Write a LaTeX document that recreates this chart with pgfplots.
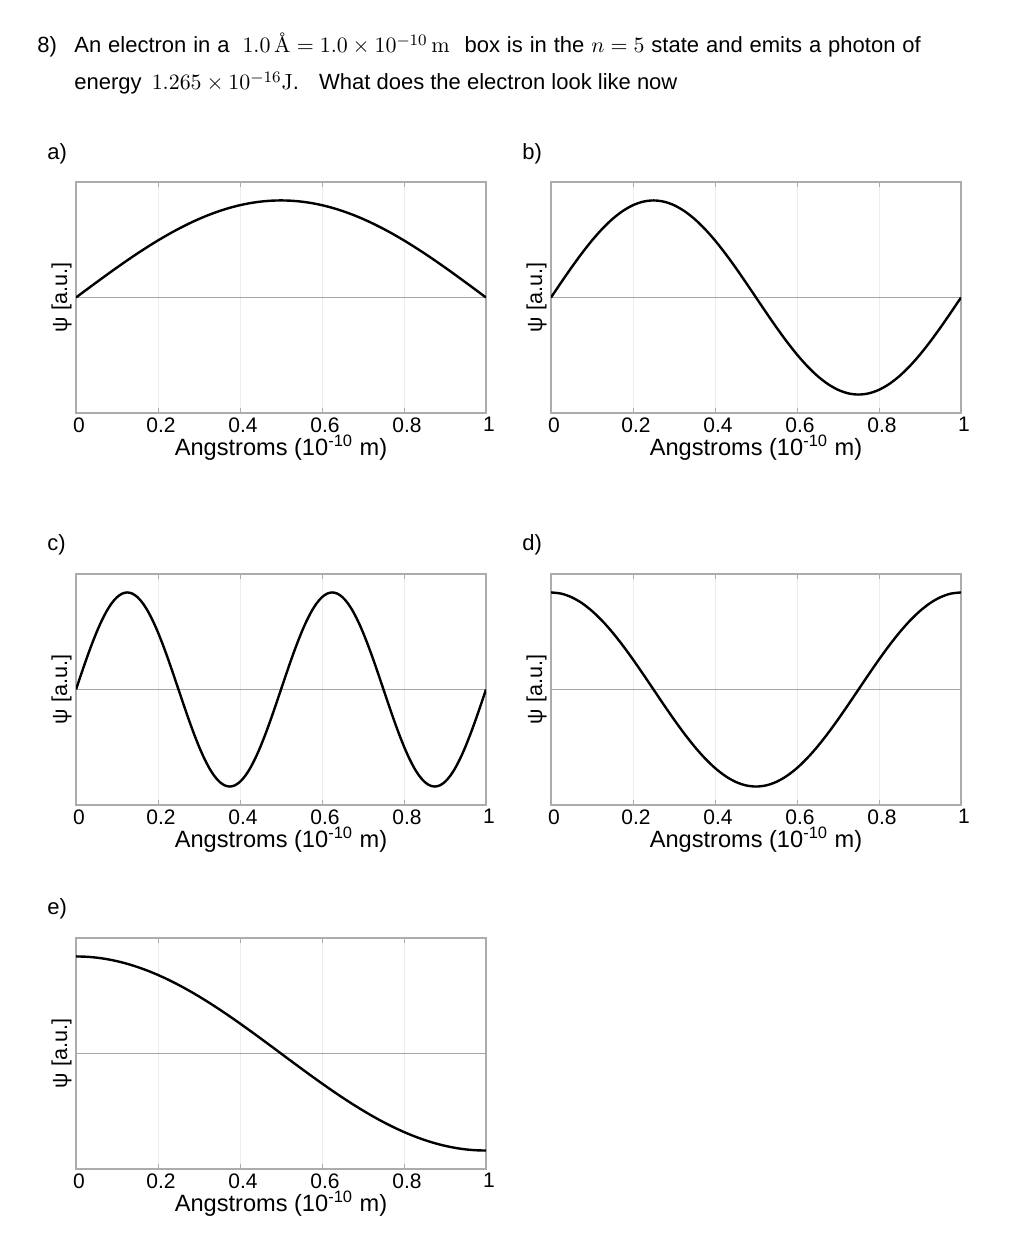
\documentclass[border=0pt]{standalone}
\usepackage{pgfplots}
\pgfplotsset{compat=1.18}
\usepackage{fontspec}
\setmainfont{Liberation Sans}
\newfontfamily\lmr{Latin Modern Roman}

\pgfplotsset{
 wf/.style={
  scale only axis, width=205pt, height=115.5pt,
  anchor=south west,
  xmin=0, xmax=1, ymin=-1.19, ymax=1.19,
  xtick={0,0.2,0.4,0.6,0.8,1},
  xticklabels={0,0.2,0.4,0.6,0.8,1},
  ytick=\empty,
  xmajorgrids, grid style={gray!15, line width=0.5pt},
  axis line style={gray!65, line width=0.6pt},
  tick style={gray!65, line width=0.5pt}, major tick length=2.5pt,
  xticklabel style={font=\fontsize{10.5}{12}\selectfont, anchor=north, inner sep=0pt, yshift=-2pt, xshift=1.5pt},
  xlabel={Angstroms (10\textsuperscript{-10} m)},
  every axis x label/.style={at={(axis description cs:0.5,0)}, anchor=north, inner sep=0pt, yshift=-11pt, font=\fontsize{11.8}{13}\selectfont},
  ylabel={ψ [a.u.]},
  every axis y label/.style={at={(axis description cs:-0.01,0.5)}, rotate=90, anchor=south, inner sep=0pt, font=\fontsize{10.8}{12}\selectfont},
 },
 zl/.style={gray!70, line width=0.6pt},
 wv/.style={black, line width=1.2pt, smooth},
}

\begin{document}
\begin{tikzpicture}
\useasboundingbox (0,0) rectangle (510pt,624pt);
\fill[white] (0,0) rectangle (510pt,624pt);

\node[anchor=base west, inner sep=0pt, font=\fontsize{11}{13}\selectfont] at (18.5pt,597.5pt) {8)};
\node[anchor=base west, inner sep=0pt, font=\fontsize{11}{13}\selectfont] at (37pt,597.5pt) {\spaceskip=3.45pt An electron in a\hspace{3pt} $1.0\,$\mbox{\lmr\AA}$\;=1.0\times10^{-10}\,$\mbox{\lmr m}\hspace{4pt} box is in the $n=5$ state and emits a photon of};
\node[anchor=base west, inner sep=0pt, font=\fontsize{11}{13}\selectfont] at (37pt,579pt) {energy\hspace{2pt} $1.265\times10^{-16}$\mbox{\lmr J}.\hspace{6pt} What does the electron look like now};

\node[anchor=base west, inner sep=0pt, font=\fontsize{11}{13}\selectfont] at (23.5pt,544pt) {a)};
\node[anchor=base west, inner sep=0pt, font=\fontsize{11}{13}\selectfont] at (261pt,544pt) {b)};
\node[anchor=base west, inner sep=0pt, font=\fontsize{11}{13}\selectfont] at (23.5pt,348.5pt) {c)};
\node[anchor=base west, inner sep=0pt, font=\fontsize{11}{13}\selectfont] at (261pt,348.5pt) {d)};
\node[anchor=base west, inner sep=0pt, font=\fontsize{11}{13}\selectfont] at (23.5pt,166.5pt) {e)};

% a) n=1
\begin{axis}[wf, at={(38pt,417.5pt)}]
\addplot[zl] coordinates {(0,0) (1,0)};
\addplot[wv] coordinates {(0,0) (0.025,0.0785) (0.05,0.1564) (0.075,0.2334) (0.1,0.3090) (0.125,0.3827) (0.15,0.4540) (0.175,0.5225) (0.2,0.5878) (0.225,0.6494) (0.25,0.7071) (0.275,0.7604) (0.3,0.8090) (0.325,0.8526) (0.35,0.8910) (0.375,0.9239) (0.4,0.9511) (0.425,0.9724) (0.45,0.9877) (0.475,0.9969) (0.5,1) (0.525,0.9969) (0.55,0.9877) (0.575,0.9724) (0.6,0.9511) (0.625,0.9239) (0.65,0.8910) (0.675,0.8526) (0.7,0.8090) (0.725,0.7604) (0.75,0.7071) (0.775,0.6494) (0.8,0.5878) (0.825,0.5225) (0.85,0.4540) (0.875,0.3827) (0.9,0.3090) (0.925,0.2334) (0.95,0.1564) (0.975,0.0785) (1,0)};
\end{axis}

% b) n=2
\begin{axis}[wf, at={(275.5pt,417.5pt)}]
\addplot[zl] coordinates {(0,0) (1,0)};
\addplot[wv] coordinates {(0,0) (0.025,0.1564) (0.05,0.3090) (0.075,0.4540) (0.1,0.5878) (0.125,0.7071) (0.15,0.8090) (0.175,0.8910) (0.2,0.9511) (0.225,0.9877) (0.25,1) (0.275,0.9877) (0.3,0.9511) (0.325,0.8910) (0.35,0.8090) (0.375,0.7071) (0.4,0.5878) (0.425,0.4540) (0.45,0.3090) (0.475,0.1564) (0.5,0) (0.525,-0.1564) (0.55,-0.3090) (0.575,-0.4540) (0.6,-0.5878) (0.625,-0.7071) (0.65,-0.8090) (0.675,-0.8910) (0.7,-0.9511) (0.725,-0.9877) (0.75,-1) (0.775,-0.9877) (0.8,-0.9511) (0.825,-0.8910) (0.85,-0.8090) (0.875,-0.7071) (0.9,-0.5878) (0.925,-0.4540) (0.95,-0.3090) (0.975,-0.1564) (1,0)};
\end{axis}

% c) n=4
\begin{axis}[wf, at={(38pt,221.5pt)}]
\addplot[zl] coordinates {(0,0) (1,0)};
\addplot[wv] coordinates {(0,0) (0.0125,0.1564) (0.025,0.3090) (0.0375,0.4540) (0.05,0.5878) (0.0625,0.7071) (0.075,0.8090) (0.0875,0.8910) (0.1,0.9511) (0.1125,0.9877) (0.125,1) (0.1375,0.9877) (0.15,0.9511) (0.1625,0.8910) (0.175,0.8090) (0.1875,0.7071) (0.2,0.5878) (0.2125,0.4540) (0.225,0.3090) (0.2375,0.1564) (0.25,0) (0.2625,-0.1564) (0.275,-0.3090) (0.2875,-0.4540) (0.3,-0.5878) (0.3125,-0.7071) (0.325,-0.8090) (0.3375,-0.8910) (0.35,-0.9511) (0.3625,-0.9877) (0.375,-1) (0.3875,-0.9877) (0.4,-0.9511) (0.4125,-0.8910) (0.425,-0.8090) (0.4375,-0.7071) (0.45,-0.5878) (0.4625,-0.4540) (0.475,-0.3090) (0.4875,-0.1564) (0.5,0) (0.5125,0.1564) (0.525,0.3090) (0.5375,0.4540) (0.55,0.5878) (0.5625,0.7071) (0.575,0.8090) (0.5875,0.8910) (0.6,0.9511) (0.6125,0.9877) (0.625,1) (0.6375,0.9877) (0.65,0.9511) (0.6625,0.8910) (0.675,0.8090) (0.6875,0.7071) (0.7,0.5878) (0.7125,0.4540) (0.725,0.3090) (0.7375,0.1564) (0.75,0) (0.7625,-0.1564) (0.775,-0.3090) (0.7875,-0.4540) (0.8,-0.5878) (0.8125,-0.7071) (0.825,-0.8090) (0.8375,-0.8910) (0.85,-0.9511) (0.8625,-0.9877) (0.875,-1) (0.8875,-0.9877) (0.9,-0.9511) (0.9125,-0.8910) (0.925,-0.8090) (0.9375,-0.7071) (0.95,-0.5878) (0.9625,-0.4540) (0.975,-0.3090) (0.9875,-0.1564) (1,0)};
\end{axis}

% d) cos 2pi x
\begin{axis}[wf, at={(275.5pt,221.5pt)}]
\addplot[zl] coordinates {(0,0) (1,0)};
\addplot[wv] coordinates {(0,1) (0.025,0.9877) (0.05,0.9511) (0.075,0.8910) (0.1,0.8090) (0.125,0.7071) (0.15,0.5878) (0.175,0.4540) (0.2,0.3090) (0.225,0.1564) (0.25,0) (0.275,-0.1564) (0.3,-0.3090) (0.325,-0.4540) (0.35,-0.5878) (0.375,-0.7071) (0.4,-0.8090) (0.425,-0.8910) (0.45,-0.9511) (0.475,-0.9877) (0.5,-1) (0.525,-0.9877) (0.55,-0.9511) (0.575,-0.8910) (0.6,-0.8090) (0.625,-0.7071) (0.65,-0.5878) (0.675,-0.4540) (0.7,-0.3090) (0.725,-0.1564) (0.75,0) (0.775,0.1564) (0.8,0.3090) (0.825,0.4540) (0.85,0.5878) (0.875,0.7071) (0.9,0.8090) (0.925,0.8910) (0.95,0.9511) (0.975,0.9877) (1,1)};
\end{axis}

% e) cos pi x
\begin{axis}[wf, at={(38pt,39.5pt)}]
\addplot[zl] coordinates {(0,0) (1,0)};
\addplot[wv] coordinates {(0,1) (0.025,0.9969) (0.05,0.9877) (0.075,0.9724) (0.1,0.9511) (0.125,0.9239) (0.15,0.8910) (0.175,0.8526) (0.2,0.8090) (0.225,0.7604) (0.25,0.7071) (0.275,0.6494) (0.3,0.5878) (0.325,0.5225) (0.35,0.4540) (0.375,0.3827) (0.4,0.3090) (0.425,0.2334) (0.45,0.1564) (0.475,0.0785) (0.5,0) (0.525,-0.0785) (0.55,-0.1564) (0.575,-0.2334) (0.6,-0.3090) (0.625,-0.3827) (0.65,-0.4540) (0.675,-0.5225) (0.7,-0.5878) (0.725,-0.6494) (0.75,-0.7071) (0.775,-0.7604) (0.8,-0.8090) (0.825,-0.8526) (0.85,-0.8910) (0.875,-0.9239) (0.9,-0.9511) (0.925,-0.9724) (0.95,-0.9877) (0.975,-0.9969) (1,-1)};
\end{axis}
\end{tikzpicture}
\end{document}
